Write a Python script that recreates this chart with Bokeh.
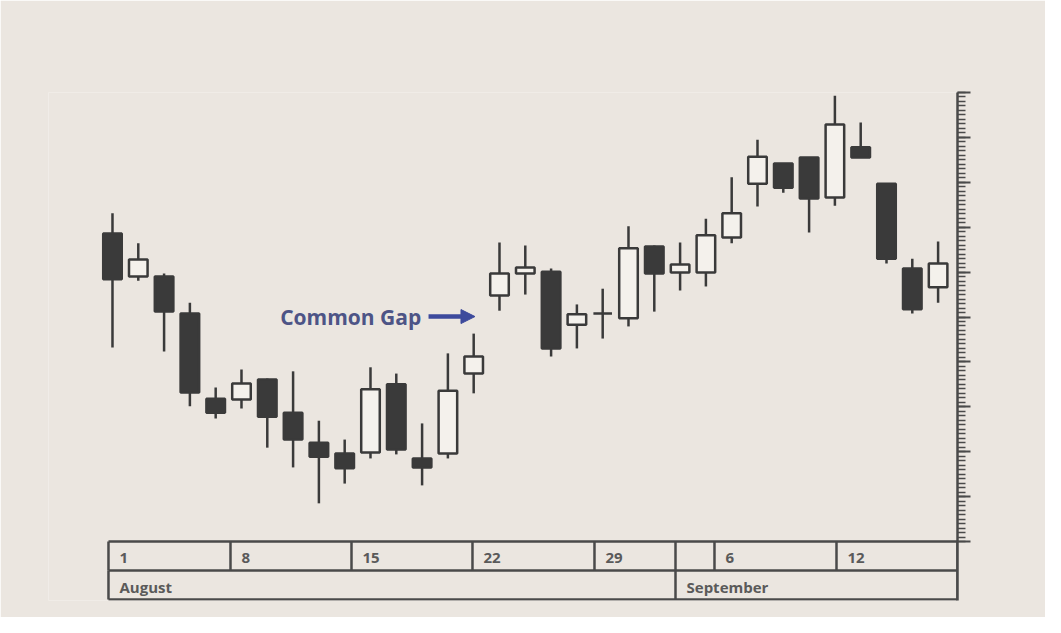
from bokeh.plotting import figure
from bokeh.models import FixedTicker, Label, Arrow, NormalHead, Range1d, ColumnDataSource, CustomJSTickFormatter
from bokeh.core.properties import value
from bokeh.embed import file_html
from bokeh.resources import INLINE

# ---- data (price units, arbitrary scale 0..100) ----
opens  = [68.6, 59.0, 59.0, 50.8, 31.8, 31.6, 36.1, 28.7, 22.0, 19.6, 19.8,
          35.0, 18.5, 19.6, 37.4, 54.8, 59.7, 60.1, 48.3, 50.8, 49.7, 65.7,
          59.9, 59.9, 67.7, 79.7, 84.2, 85.5, 76.6, 87.8, 79.7, 60.8, 56.6]
highs  = [73.1, 66.4, 59.7, 53.2, 34.3, 38.3, 36.3, 37.9, 26.9, 22.7, 38.8,
          37.4, 26.3, 41.9, 46.3, 66.6, 65.9, 60.8, 52.8, 56.3, 70.2, 65.9,
          66.6, 71.9, 81.1, 89.5, 84.2, 85.5, 99.3, 93.3, 79.7, 63.0, 66.8]
lows   = [43.2, 58.1, 42.3, 30.1, 27.4, 29.6, 20.9, 16.5, 8.5, 12.9, 18.5,
          19.4, 12.5, 18.5, 33.0, 51.4, 55.0, 41.2, 43.0, 45.2, 47.9, 51.2,
          55.9, 56.8, 66.4, 74.6, 77.7, 68.8, 74.8, 85.5, 61.9, 50.8, 53.2]
closes = [58.4, 62.8, 51.2, 33.2, 28.7, 35.2, 27.8, 22.7, 18.9, 16.3, 33.9,
          20.5, 16.5, 33.6, 41.2, 59.7, 61.0, 43.0, 50.6, 50.8, 65.3, 59.7,
          61.7, 68.2, 73.1, 85.7, 78.8, 76.4, 92.9, 85.5, 63.0, 51.7, 61.9]

# date table: column boundaries (in candle-index units) and labels
week_bounds = [-0.155, 4.574, 9.264, 13.953, 18.682, 21.822, 23.333, 28.062, 32.752]
week_labels = ["1", "8", "15", "22", "29", "", "6", "12"]
month_bounds = [-0.155, 21.822, 32.752]
month_labels = ["August", "September"]

major_ticks = list(range(0, 101, 10))
minor_ticks = list(range(0, 101, 1))

annotation_text = "Common Gap"

# ---- styling ----
BG = "#ebe6e0"
INK = "#3a3a3a"
LIGHT = "#f4f1ec"
LINE = "#4a4a4a"
TXT = "#5a5a5a"

idx = list(range(len(opens)))
tops = [max(o, c) for o, c in zip(opens, closes)]
bots = [min(o, c) for o, c in zip(opens, closes)]
fills = [INK if c < o else LIGHT for o, c in zip(opens, closes)]

src = ColumnDataSource(dict(x=idx, high=highs, low=lows, top=tops, bottom=bots, fill=fills))

p = figure(frame_width=909, frame_height=508,
           min_border_left=48, min_border_right=88, min_border_top=92, min_border_bottom=17,
           x_range=Range1d(-2.48, 32.752), y_range=Range1d(-13.14, 100),
           x_axis_location=None, y_axis_location="right",
           toolbar_location=None, output_backend="svg",
           background_fill_color=BG, border_fill_color=BG, outline_line_color=None)

p.ygrid.grid_line_color = None
p.xgrid.grid_line_color = None

ax = p.yaxis[0]
ax.ticker = FixedTicker(ticks=major_ticks, minor_ticks=minor_ticks)
ax.formatter = CustomJSTickFormatter(code="return '';")
ax.major_label_standoff = 0
ax.axis_line_color = LINE
ax.axis_line_width = 2.5
ax.major_tick_line_color = LINE
ax.major_tick_line_width = 2
ax.major_tick_in = 0
ax.major_tick_out = 13
ax.minor_tick_line_color = LINE
ax.minor_tick_line_width = 1.6
ax.minor_tick_in = 0
ax.minor_tick_out = 8

# candles
p.segment(x0="x", x1="x", y0="low", y1="high", source=src, line_color=INK, line_width=2.5)
p.vbar(x="x", top="top", bottom="bottom", width=0.72, source=src,
       fill_color="fill", line_color=INK, line_width=2.5)

# date table
row1 = -6.46
row2 = -12.92
p.segment(x0=[week_bounds[0]] * 3, x1=[week_bounds[-1]] * 3, y0=[0, row1, row2], y1=[0, row1, row2],
          line_color=LINE, line_width=2.5)
p.segment(x0=week_bounds, x1=week_bounds, y0=[0] * len(week_bounds), y1=[row1] * len(week_bounds),
          line_color=LINE, line_width=2.5)
p.segment(x0=month_bounds, x1=month_bounds, y0=[row1] * len(month_bounds), y1=[row2] * len(month_bounds),
          line_color=LINE, line_width=2.5)

wk = [(b, t) for b, t in zip(week_bounds[:-1], week_labels) if t]
p.text(x=[b for b, _ in wk], y=[row1 / 2] * len(wk), text=[t for _, t in wk],
       text_font=value("Open Sans"), text_font_size="15px", text_font_style="bold", text_color=TXT,
       text_baseline="middle", text_align="left", x_offset=11, y_offset=2)
p.text(x=month_bounds[:-1], y=[(row1 + row2) / 2] * len(month_labels), text=month_labels,
       text_font=value("Open Sans"), text_font_size="15px", text_font_style="bold", text_color=TXT,
       text_baseline="middle", text_align="left", x_offset=11, y_offset=2)

# annotation
p.add_layout(Label(x=6.5, y=50.1, text=annotation_text, text_font="Open Sans", text_font_style="bold",
                   text_font_size="21px", text_color="#4d5486", text_baseline="middle", text_align="left"))
p.add_layout(Arrow(x_start=12.25, y_start=50.1, x_end=14.05, y_end=50.1,
                   line_color="#3d4a9c", line_width=4.5,
                   end=NormalHead(size=14, fill_color="#3d4a9c", line_color="#3d4a9c")))

open("out.html", "w").write(file_html(p, INLINE))
